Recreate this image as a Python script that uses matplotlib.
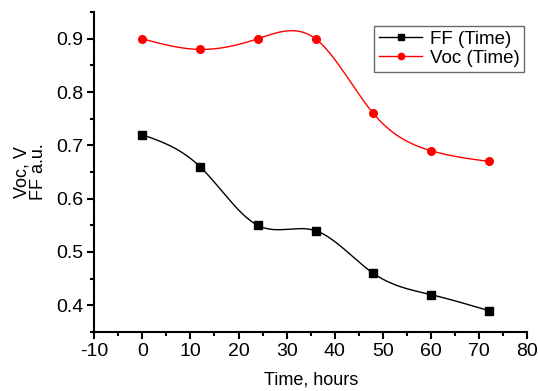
import numpy as np
import matplotlib
matplotlib.use("Agg")
import matplotlib.pyplot as plt
from matplotlib.ticker import MultipleLocator

plt.rcParams['font.family'] = ['Liberation Sans', 'DejaVu Sans']
plt.rcParams['axes.unicode_minus'] = False

time_h = [0, 12, 24, 36, 48, 60, 72]
ff = [0.72, 0.66, 0.55, 0.54, 0.46, 0.42, 0.39]
voc = [0.90, 0.88, 0.90, 0.90, 0.76, 0.69, 0.67]


def spline(x, y, n=300):
    # natural cubic spline, like Origin's "Spline" connect
    x = np.asarray(x, float)
    y = np.asarray(y, float)
    k = len(x)
    h = np.diff(x)
    A = np.zeros((k, k))
    b = np.zeros(k)
    A[0, 0] = A[-1, -1] = 1
    for i in range(1, k - 1):
        A[i, i - 1] = h[i - 1]
        A[i, i] = 2 * (h[i - 1] + h[i])
        A[i, i + 1] = h[i]
        b[i] = 6 * ((y[i + 1] - y[i]) / h[i] - (y[i] - y[i - 1]) / h[i - 1])
    m = np.linalg.solve(A, b)
    xs = np.linspace(x[0], x[-1], n)
    idx = np.clip(np.searchsorted(x, xs) - 1, 0, k - 2)
    x0, x1 = x[idx], x[idx + 1]
    hh = x1 - x0
    t1 = xs - x0
    t2 = x1 - xs
    ys = (m[idx] * t2**3 + m[idx + 1] * t1**3) / (6 * hh) \
        + (y[idx] / hh - m[idx] * hh / 6) * t2 \
        + (y[idx + 1] / hh - m[idx + 1] * hh / 6) * t1
    return xs, ys


fig, ax = plt.subplots(figsize=(5.38, 3.91), dpi=100)
fig.subplots_adjust(left=0.175, right=0.98, top=0.969, bottom=0.151)

xs, ys = spline(time_h, ff)
ax.plot(xs, ys, color='black', lw=1)
ax.plot(time_h, ff, 's', color='black', ms=5.5)
ax.plot([], [], '-s', color='black', ms=4.5, lw=1, label='FF (Time)')

xs, ys = spline(time_h, voc)
ax.plot(xs, ys, color='red', lw=1)
ax.plot(time_h, voc, 'o', color='red', ms=5.5)
ax.plot([], [], '-o', color='red', ms=4.5, lw=1, label='Voc (Time)')

ax.set_xlim(-10, 80)
ax.set_ylim(0.35, 0.95)
ax.xaxis.set_major_locator(MultipleLocator(10))
ax.xaxis.set_minor_locator(MultipleLocator(5))
ax.yaxis.set_major_locator(MultipleLocator(0.1))
ax.yaxis.set_minor_locator(MultipleLocator(0.05))
ax.spines['top'].set_visible(False)
ax.spines['right'].set_visible(False)
ax.spines['left'].set_linewidth(1.5)
ax.spines['bottom'].set_linewidth(1.5)
ax.tick_params(which='major', direction='out', length=5, width=1.5, labelsize=14, pad=3)
ax.tick_params(which='minor', direction='out', length=3, width=1.5)

ax.set_xlabel('Time, hours', fontsize=13, labelpad=8)
ax.set_ylabel('Voc, V\nFF a.u.', fontsize=13, linespacing=1.0, labelpad=6)

leg = ax.legend(loc='upper right', bbox_to_anchor=(0.993, 0.956), fontsize=13.5,
                frameon=True, fancybox=False, edgecolor='#444444',
                handlelength=2.3, handletextpad=0.4, borderpad=0.25,
                labelspacing=0.1, borderaxespad=0)
leg.get_frame().set_linewidth(1)

fig.savefig('out.png', dpi=100)
